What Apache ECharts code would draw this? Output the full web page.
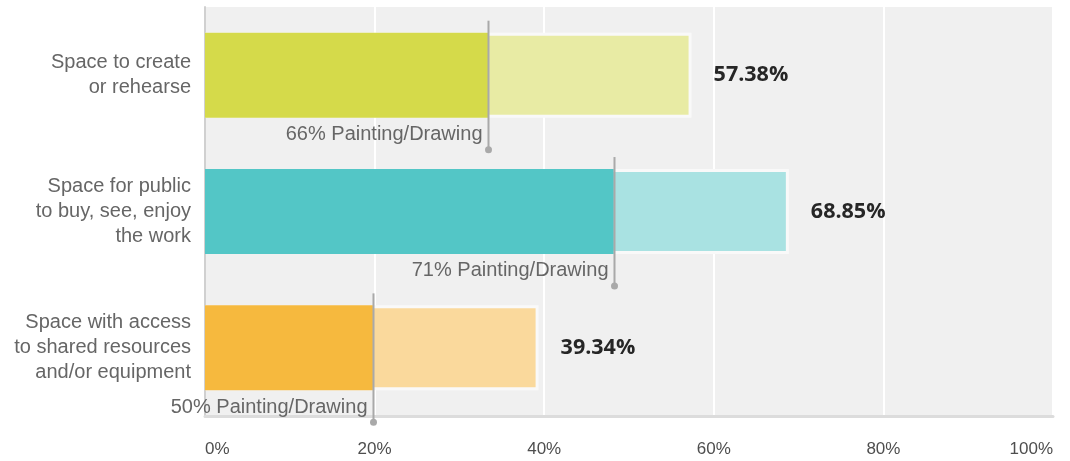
<!DOCTYPE html>
<html>
<head>
<meta charset="utf-8">
<style>
  html, body { margin: 0; padding: 0; background: #ffffff; }
  #chart { width: 1070px; height: 461px; }
</style>
<script src="https://cdn.jsdelivr.net/npm/echarts@6/dist/echarts.min.js"></script>
</head>
<body>
<div id="chart"></div>
<script>
// Survey categories (top to bottom)
const categories = [
  'Space to create\nor rehearse',
  'Space for public\nto buy, see, enjoy\nthe work',
  'Space with access\nto shared resources\nand/or equipment'
];
// Share of all respondents who want each kind of space (%)
const totalShare = [57.38, 68.85, 39.34];
// Painting/drawing respondents' portion within each bar (%)
const paintingShare = [33.4, 48.2, 19.8];
// Callout text for the painting/drawing marker
const paintingLabels = ['66% Painting/Drawing', '71% Painting/Drawing', '50% Painting/Drawing'];
// Bar colours: strong segment, pale full bar
const strongColors = ['#d5da4a', '#53c6c6', '#f6b93e'];
const paleColors = ['#e8eba4', '#a9e2e2', '#fad99c'];
// X axis ticks
const xMin = 0, xMax = 100, xStep = 20;

const BAR_RATIO = 0.623;
const TEXT_FONT = 'Liberation Sans, Arial, sans-serif';

const chart = echarts.init(document.getElementById('chart'), null, { renderer: 'canvas' });

const option = {
  animation: false,
  backgroundColor: '#ffffff',
  grid: {
    left: 205, right: 17, top: 7, bottom: 45,
    show: true, backgroundColor: '#f0f0f0', borderWidth: 0
  },
  xAxis: {
    type: 'value', min: xMin, max: xMax, interval: xStep,
    axisLine: { show: true, lineStyle: { color: '#dcdcdc', width: 3 } },
    axisTick: { show: false },
    splitLine: { show: true, lineStyle: { color: '#ffffff', width: 2 } },
    axisLabel: {
      formatter: '{value}%', color: '#4e4e4e', fontSize: 17, fontFamily: TEXT_FONT,
      margin: 25, alignMinLabel: 'left', alignMaxLabel: 'right'
    }
  },
  yAxis: {
    type: 'category', data: categories, inverse: true,
    axisLine: { show: true, lineStyle: { color: '#d0d0d0', width: 2 } },
    axisTick: { show: false },
    splitLine: { show: false },
    axisLabel: {
      color: '#666666', fontSize: 20, lineHeight: 25, fontFamily: TEXT_FONT,
      margin: 14, align: 'right'
    }
  },
  series: [
    {
      name: 'All respondents',
      type: 'bar',
      barWidth: (BAR_RATIO * 100) + '%',
      barGap: '-100%',
      z: 2,
      data: totalShare.map((v, i) => ({
        value: v,
        itemStyle: { color: paleColors[i], borderColor: '#f9f9f9', borderWidth: 3 }
      })),
      label: {
        show: true, position: 'right', distance: 22,
        formatter: '{c}%',
        color: '#262626', fontSize: 21.5, fontWeight: 'bold',
        fontFamily: 'Open Sans, sans-serif'
      }
    },
    {
      name: 'Painting/Drawing',
      type: 'bar',
      barWidth: (BAR_RATIO * 100) + '%',
      barGap: '-100%',
      z: 3,
      data: paintingShare.map((v, i) => ({ value: v, itemStyle: { color: strongColors[i] } }))
    },
    {
      name: 'Marker',
      type: 'custom',
      clip: false,
      z: 5,
      data: paintingShare.map((v, i) => [v, i, paintingLabels[i]]),
      renderItem: function (params, api) {
        const pt = api.coord([api.value(0), api.value(1)]);
        const band = api.size([0, 1])[1];
        const half = band * BAR_RATIO / 2;
        const top = pt[1] - half;
        const bottom = pt[1] + half;
        const x = Math.round(pt[0]) + 0.5;
        const dotY = bottom + 32;
        return {
          type: 'group',
          children: [
            {
              type: 'line',
              shape: { x1: x, y1: top - 12, x2: x, y2: dotY },
              style: { stroke: '#a9a9a9', lineWidth: 2 }
            },
            {
              type: 'circle',
              shape: { cx: x, cy: dotY, r: 3.5 },
              style: { fill: '#a9a9a9' }
            },
            {
              type: 'text',
              style: {
                x: x - 6, y: bottom + 17,
                text: api.value(2),
                align: 'right', verticalAlign: 'middle',
                fill: '#666666', fontSize: 20, fontFamily: TEXT_FONT
              }
            }
          ]
        };
      }
    }
  ]
};

chart.setOption(option);
</script>
</body>
</html>
